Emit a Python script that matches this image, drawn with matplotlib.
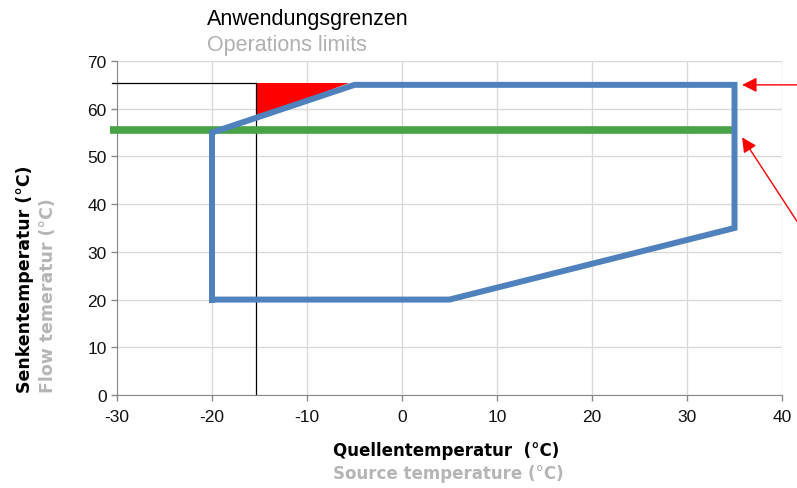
import matplotlib
matplotlib.use("Agg")
import matplotlib.pyplot as plt

plt.rcParams["axes.unicode_minus"] = False

# Betriebsgrenze (Polygon), Quelle x / Senke y in Grad C
grenze_x = [-20, 5, 35, 35, -5, -20, -20]
grenze_y = [20, 20, 35, 65, 65, 55, 20]

# Vorlauftemperatur-Linie (gruen)
linie_x = [-30.7, 35]
linie_y = [55.5, 55.5]

# rotes Dreieck (gesperrter Bereich)
dreieck_x = [-15.4, -15.4, -5.6]
dreieck_y = [58.0, 65.3, 65.3]

# schwarze Hilfslinien
hilfs_h_x = [-30.5, -15.4]
hilfs_h_y = [65.3, 65.3]
hilfs_v_x = [-15.4, -15.4]
hilfs_v_y = [0, 65.3]

# Pfeile (Spitze, Ende)
pfeile = [((35.8, 65), (41.8, 65)), ((35.8, 54), (42.2, 34.5))]

x_ticks = [-30, -20, -10, 0, 10, 20, 30, 40]
y_ticks = [0, 10, 20, 30, 40, 50, 60, 70]

fig = plt.figure(figsize=(7.97, 4.89), dpi=100)
ax = fig.add_axes([0.1468, 0.1902, 0.8344, 0.683])

ax.set_xlim(-30, 40)
ax.set_ylim(0, 70)
ax.set_xticks(x_ticks)
ax.set_yticks(y_ticks)
ax.grid(True, color="#d9d9d9", lw=1)
ax.set_axisbelow(True)
for s in ["top", "right"]:
    ax.spines[s].set_visible(False)
for s in ["left", "bottom"]:
    ax.spines[s].set_color("#888888")
ax.tick_params(colors="#888888", length=4, width=1, labelcolor="#111111",
               labelsize=12.5)
ax.tick_params(axis="x", pad=6)
for lab in ax.get_xticklabels() + ax.get_yticklabels():
    lab.set_family("Liberation Sans")

ax.fill(dreieck_x, dreieck_y, color="#ff0000", lw=0, zorder=2)
ax.plot(hilfs_h_x, hilfs_h_y, color="black", lw=0.9, clip_on=False, zorder=3)
ax.plot(hilfs_v_x, hilfs_v_y, color="black", lw=0.9, zorder=3)
ax.plot(linie_x, linie_y, color="#48a246", lw=5.5, clip_on=False,
        solid_capstyle="butt", zorder=4)
ax.plot(grenze_x, grenze_y, color="#4f81bd", lw=4.3, zorder=5,
        solid_joinstyle="miter")

for spitze, ende in pfeile:
    ax.annotate("", xy=spitze, xytext=ende, annotation_clip=False,
                arrowprops=dict(arrowstyle="-|>", color="#ff0000", lw=1,
                                mutation_scale=22, shrinkA=0, shrinkB=0))

fig.text(207 / 797, 1 - 20 / 489, "Anwendungsgrenzen", family="Liberation Sans",
         fontsize=15.5, color="black", ha="left", va="center")
fig.text(207 / 797, 1 - 45 / 489, "Operations limits", family="Liberation Sans",
         fontsize=15.5, color="#b0b0b0", ha="left", va="center")

fig.text(333 / 797, 1 - 451 / 489, "Quellentemperatur  (°C)", fontsize=12,
         fontweight="bold", color="black", ha="left", va="center")
fig.text(333 / 797, 1 - 474 / 489, "Source temperature (°C)", fontsize=12,
         fontweight="bold", color="#b5b5b5", ha="left", va="center")

fig.text(25 / 797, 1 - 393 / 489, "Senkentemperatur (°C)", fontsize=12.5,
         fontweight="bold", color="black", rotation=90, ha="center", va="bottom")
fig.text(48 / 797, 1 - 393 / 489, "Flow temeratur (°C)", fontsize=12.5,
         fontweight="bold", color="#b5b5b5", rotation=90, ha="center", va="bottom")

fig.savefig("out.png", dpi=100)
